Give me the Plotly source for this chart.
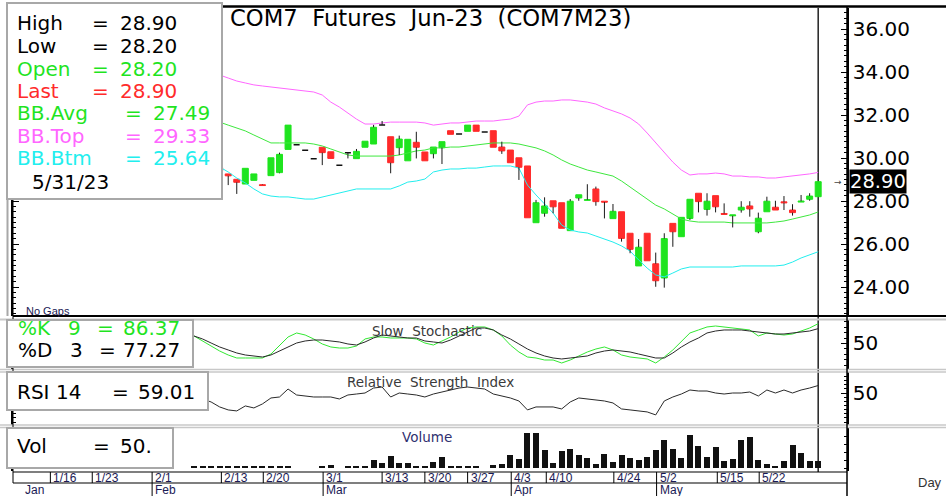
import plotly.graph_objects as go

W, H = 946, 496

# ---------------- data ----------------
opens = [29.60, 29.70, 29.80, 29.55,
         29.26, 29.01, 28.79, 28.96, 28.76, 29.18, 29.32, 30.40, 30.62, 30.36,
         29.97, 30.50, 30.29, 29.66, 30.25, 29.97, 30.50, 30.65, 31.54, 30.99,
         30.48, 29.87, 30.73, 30.28, 30.20, 30.48, 31.27, 31.12, 31.24, 31.53,
         31.21, 31.27, 30.51, 30.37, 30.01, 29.63, 26.99, 27.43, 28.01, 27.92,
         26.62, 28.14, 28.03, 28.56, 27.99, 27.18, 27.50, 26.50, 24.98, 26.50,
         25.08, 24.42, 26.96, 26.34, 27.19, 28.36, 27.61, 28.25, 27.42, 27.31,
         27.58, 27.77, 26.57, 27.50, 27.71, 27.96, 27.58, 27.95, 28.08, 28.20]
highs = [29.80, 29.90, 29.85, 29.60,
         29.26, 29.01, 29.52, 29.26, 28.78, 30.01, 30.25, 31.53, 30.62, 30.36,
         29.97, 30.50, 30.29, 29.66, 30.25, 30.42, 30.78, 31.54, 31.72, 30.99,
         31.04, 30.87, 31.22, 30.28, 30.51, 30.76, 31.27, 31.12, 31.53, 31.53,
         31.21, 31.27, 30.76, 30.37, 30.01, 29.63, 28.05, 28.17, 28.01, 27.92,
         28.09, 28.29, 28.78, 28.67, 27.99, 27.86, 27.50, 26.50, 26.23, 26.50,
         25.60, 26.50, 26.96, 27.24, 28.08, 28.36, 28.36, 28.25, 27.89, 27.35,
         27.99, 27.99, 27.46, 28.20, 28.01, 28.23, 27.85, 28.28, 28.36, 28.90]
lows = [29.50, 29.60, 29.50, 29.35,
        28.74, 28.33, 28.79, 28.96, 28.72, 29.18, 29.29, 30.40, 30.62, 30.36,
        29.97, 29.67, 29.98, 29.66, 29.98, 29.97, 30.50, 30.65, 31.54, 29.29,
        30.14, 29.87, 29.98, 29.87, 29.98, 29.72, 31.10, 31.12, 31.24, 31.24,
        31.21, 30.50, 30.19, 29.78, 28.98, 27.22, 26.99, 27.27, 27.43, 26.73,
        26.62, 28.01, 28.03, 27.78, 27.19, 27.18, 26.11, 25.57, 24.98, 25.22,
        24.01, 23.97, 25.87, 26.34, 27.12, 27.47, 27.32, 27.47, 27.38, 26.77,
        27.46, 27.27, 26.50, 27.50, 27.58, 27.58, 27.32, 27.95, 28.01, 28.20]
closes = [29.70, 29.80, 29.55, 29.40,
          29.17, 28.87, 29.52, 29.26, 28.72, 30.01, 30.17, 31.53, 30.62, 30.36,
          29.97, 30.25, 29.98, 29.66, 30.25, 30.31, 30.78, 31.43, 31.54, 29.78,
          30.88, 30.87, 30.50, 29.87, 30.51, 30.76, 31.10, 31.12, 31.53, 31.24,
          31.21, 30.50, 30.33, 29.78, 29.57, 27.22, 27.92, 27.77, 27.73, 26.73,
          27.99, 28.29, 28.06, 27.97, 27.95, 27.52, 26.26, 25.75, 25.85, 25.22,
          24.29, 26.25, 26.57, 27.24, 28.08, 27.97, 27.99, 27.73, 27.38, 27.35,
          27.71, 27.63, 27.20, 27.99, 27.58, 27.92, 27.46, 27.99, 28.23, 28.90]
volume = [10, 10, 10, 10,
          15, 15, 10, 10, 10, 10, 10, 10, 0, 0,
          0, 10, 22, 0, 12, 15, 15, 60, 38, 90,
          40, 40, 15, 15, 45, 82, 12, 12, 12, 18,
          0, 25, 32, 98, 65, 262, 262, 133, 40, 128,
          142, 98, 75, 32, 105, 43, 98, 75, 58, 82,
          133, 210, 140, 77, 245, 165, 82, 155, 52, 65,
          210, 232, 60, 32, 17, 52, 170, 115, 50, 50]
bb_top = [34.00, 33.95, 33.91, 33.86, 33.72, 33.58, 33.49, 33.40, 33.35, 33.30,
          33.26, 33.21, 33.16, 33.12, 33.07, 32.93, 32.60, 32.37, 32.09, 31.81,
          31.58, 31.58, 31.63, 31.67, 31.67, 31.67, 31.67, 31.63, 31.53, 31.58,
          31.63, 31.63, 31.67, 31.72, 31.72, 31.72, 31.77, 31.81, 31.95, 32.47,
          32.60, 32.65, 32.65, 32.70, 32.70, 32.65, 32.60, 32.51, 32.33, 32.19,
          32.05, 31.86, 31.58, 31.16, 30.70, 30.23, 29.81, 29.44, 29.21, 29.26,
          29.26, 29.30, 29.26, 29.16, 29.16, 29.12, 29.12, 29.07, 29.07, 29.12,
          29.16, 29.21, 29.26, 29.33]
bb_avg = [31.95, 31.86, 31.77, 31.67, 31.53, 31.40, 31.26, 31.07, 30.88, 30.70,
          30.70, 30.70, 30.70, 30.70, 30.65, 30.56, 30.42, 30.28, 30.14, 30.09,
          30.09, 30.09, 30.09, 30.09, 30.14, 30.23, 30.33, 30.37, 30.47, 30.47,
          30.51, 30.51, 30.56, 30.60, 30.65, 30.70, 30.70, 30.70, 30.65, 30.56,
          30.47, 30.33, 30.14, 29.91, 29.72, 29.58, 29.44, 29.35, 29.26, 29.16,
          28.93, 28.65, 28.33, 28.05, 27.81, 27.63, 27.40, 27.16, 27.07, 27.02,
          27.02, 27.02, 27.02, 26.98, 26.98, 26.98, 26.98, 26.98, 27.02, 27.07,
          27.16, 27.26, 27.35, 27.49]
bb_btm = [30.00, 29.86, 29.72, 29.58, 29.35, 29.07, 28.84, 28.56, 28.33, 28.23,
          28.19, 28.19, 28.14, 28.09, 28.09, 28.19, 28.28, 28.37, 28.47, 28.56,
          28.56, 28.56, 28.56, 28.56, 28.70, 28.88, 28.93, 29.02, 29.35, 29.44,
          29.49, 29.49, 29.53, 29.53, 29.58, 29.63, 29.63, 29.63, 29.53, 28.74,
          28.28, 27.86, 27.44, 26.88, 26.65, 26.56, 26.51, 26.37, 26.23, 26.09,
          25.91, 25.67, 25.26, 24.88, 24.56, 24.47, 24.65, 24.84, 24.93, 24.93,
          24.93, 24.93, 24.93, 24.93, 24.98, 24.98, 24.98, 24.98, 24.98, 25.02,
          25.16, 25.35, 25.49, 25.64]
stoch_k = [63.8, 54.6, 45.4, 36.2, 28.9, 23.4, 23.4, 23.4, 23.4, 30.7,
           47.2, 61.9, 69.3, 65.6, 58.3, 49.1, 43.6, 41.7, 41.7, 45.4,
           58.3, 61.9, 61.9, 60.1, 60.1, 60.1, 58.3, 50.9, 47.2, 54.6,
           61.9, 71.1, 78.4, 80.3, 80.3, 74.8, 63.8, 47.2, 34.4, 25.2,
           23.4, 19.7, 19.7, 14.2, 19.7, 27.1, 34.4, 39.9, 43.6, 38.1,
           28.9, 25.2, 23.4, 21.6, 14.2, 25.2, 38.1, 54.6, 69.3, 74.8,
           80.3, 82.1, 80.3, 78.4, 76.6, 74.8, 63.8, 69.3, 67.4, 65.6,
           67.4, 72.9, 78.4, 86.37]
stoch_d = [63.8, 58.3, 50.9, 43.6, 38.1, 32.6, 28.9, 27.1, 25.2, 28.9,
           36.2, 43.6, 50.9, 54.6, 56.4, 56.4, 54.6, 52.8, 49.1, 47.2,
           52.8, 60.1, 65.6, 63.8, 61.9, 60.1, 60.1, 54.6, 52.8, 50.9,
           56.4, 63.8, 71.1, 78.4, 78.4, 74.8, 65.6, 58.3, 49.1, 39.9,
           32.6, 27.1, 23.4, 21.6, 23.4, 25.2, 27.1, 32.6, 36.2, 38.1,
           36.2, 34.4, 30.7, 27.1, 23.4, 23.4, 32.6, 43.6, 52.8, 60.1,
           69.3, 72.9, 74.8, 74.8, 74.8, 72.9, 71.1, 69.3, 67.4, 67.4,
           69.3, 71.1, 72.9, 77.27]
rsi = [44.0, 42.8, 39.2, 33.2, 29.6, 28.4, 34.4, 32.0, 36.8, 44.0,
       45.2, 54.8, 47.6, 46.4, 45.2, 45.2, 45.2, 42.8, 47.6, 48.8,
       50.0, 56.0, 57.2, 45.2, 50.0, 48.8, 47.6, 45.2, 48.8, 51.2,
       53.6, 56.0, 57.2, 56.0, 54.8, 48.8, 46.4, 44.0, 40.4, 29.6,
       33.2, 33.2, 33.2, 30.8, 39.2, 44.0, 42.8, 41.6, 40.4, 38.0,
       30.8, 29.6, 28.4, 27.2, 23.6, 40.4, 45.2, 48.8, 53.6, 52.4,
       52.4, 50.0, 48.8, 50.0, 50.0, 51.2, 46.4, 53.6, 50.0, 53.6,
       50.0, 53.6, 56.0, 59.01]
date_tick_labels = ['1/16', '1/23', '2/1', '2/13', '2/20', '3/1', '3/13', '3/20',
                    '3/27', '4/3', '4/10', '4/24', '5/2', '5/15', '5/22']
date_tick_pos = [-16.8, -11.9, -4.9, 3.2, 8.1, 15.1, 22.0, 27.0,
                 32.0, 37.1, 41.2, 49.1, 54.1, 61.2, 66.1]
month_labels = ['Jan', 'Feb', 'Mar', 'Apr', 'May']
month_pos = [-20.1, -4.9, 15.1, 37.1, 54.1]
price_ticks = [24, 26, 28, 30, 32, 34, 36]
title_text = 'COM7  Futures  Jun-23  (COM7M23)'
last_date = '5/31/23'

# ---------------- styling ----------------
FONT = 'DejaVu Sans'
ARIAL = 'Arial'
GREEN = '#1fe41f'
RED = '#ff2b2b'
PINK = '#ff66ff'
CYAN = '#22eeee'
NAVY = '#1a1a55'

n = len(closes)
xs = list(range(n))

fig = go.Figure()

# Bollinger bands
for vals, col in [(bb_top, PINK), (bb_avg, '#3ee83e'), (bb_btm, CYAN)]:
    fig.add_trace(go.Scatter(x=xs, y=vals, mode='lines', line=dict(color=col, width=1),
                             hoverinfo='skip', xaxis='x', yaxis='y'))


def candle_subset(pred, color, lw):
    sel = [i for i in xs if pred(opens[i], closes[i])]
    return go.Candlestick(
        x=sel,
        open=[opens[i] for i in sel],
        high=[max(opens[i], closes[i]) for i in sel],
        low=[min(opens[i], closes[i]) for i in sel],
        close=[closes[i] for i in sel],
        increasing=dict(fillcolor=color, line=dict(color=color, width=lw)),
        decreasing=dict(fillcolor=color, line=dict(color=color, width=lw)),
        whiskerwidth=0, hoverinfo='skip', xaxis='x', yaxis='y')


fig.add_trace(candle_subset(lambda o, c: c > o, GREEN, 1))
fig.add_trace(candle_subset(lambda o, c: c < o, RED, 1))
fig.add_trace(candle_subset(lambda o, c: c == o, '#111111', 1.5))

# wicks (outside of the bodies)
wx, wy = [], []
for i in xs:
    top = max(opens[i], closes[i])
    bot = min(opens[i], closes[i])
    if highs[i] > top:
        wx += [i, i, None]
        wy += [top, highs[i], None]
    if lows[i] < bot:
        wx += [i, i, None]
        wy += [lows[i], bot, None]
fig.add_trace(go.Scatter(x=wx, y=wy, mode='lines', line=dict(color='#1a1a1a', width=1),
                         hoverinfo='skip', xaxis='x', yaxis='y'))

# Slow stochastic
fig.add_trace(go.Scatter(x=xs, y=stoch_k, mode='lines', line=dict(color='#33e833', width=1),
                         hoverinfo='skip', xaxis='x', yaxis='y2'))
fig.add_trace(go.Scatter(x=xs, y=stoch_d, mode='lines', line=dict(color='#2a2a2a', width=1),
                         hoverinfo='skip', xaxis='x', yaxis='y2'))
# RSI
fig.add_trace(go.Scatter(x=xs, y=rsi, mode='lines', line=dict(color='#2a2a2a', width=1),
                         hoverinfo='skip', xaxis='x', yaxis='y3'))
# Volume
fig.add_trace(go.Bar(x=xs, y=volume, width=0.7, marker=dict(color='#111111', line=dict(width=0)),
                     hoverinfo='skip', xaxis='x', yaxis='y4'))


def py(p):
    return 1 - p / H


def px(p):
    return p / W


def yax(dom, rng, **kw):
    d = dict(domain=[py(dom[1]), py(dom[0])], range=rng, anchor='x', side='right',
             showgrid=False, zeroline=False, showline=True, linecolor='black', linewidth=1.5,
             mirror='ticks', ticks='inside', tickcolor='black', ticklen=6,
             tickfont=dict(family=FONT, size=20, color='black'), fixedrange=True)
    d.update(kw)
    return d


fig.update_layout(
    width=W, height=H, margin=dict(l=0, r=0, t=0, b=0),
    paper_bgcolor='white', plot_bgcolor='rgba(0,0,0,0)',
    showlegend=False, boxgap=0.3, boxgroupgap=0, bargap=0,
    xaxis=dict(domain=[px(13), px(847)], range=[-21.17, 76.37], anchor='y4',
               showticklabels=False, ticks='', showgrid=False, zeroline=False,
               showline=False, rangeslider=dict(visible=False), fixedrange=True),
    yaxis=yax((8, 316), [22.651, 36.977], tickvals=price_ticks, tickformat='.2f',
              minor=dict(dtick=0.25, ticks='inside', ticklen=3, tickcolor='black')),
    yaxis2=yax((320, 369), [3.2, 93.1], tickvals=[50], ticktext=['50'],
               minor=dict(dtick=10, ticks='inside', ticklen=3, tickcolor='black')),
    yaxis3=yax((372, 425), [11.45, 75.3], tickvals=[50], ticktext=['50'],
               minor=dict(dtick=5, ticks='inside', ticklen=3, tickcolor='black')),
    yaxis4=yax((428, 471), [-22.5, 300], tickvals=[0, 60, 120, 180, 240], showticklabels=False,
               ticklen=3),
)

shapes = []


def hline(y, x0, x1, color, width):
    shapes.append(dict(type='line', xref='paper', yref='paper', x0=px(x0), x1=px(x1),
                       y0=py(y), y1=py(y), line=dict(color=color, width=width), layer='above'))


def vline(x, y0, y1, color, width):
    shapes.append(dict(type='line', xref='paper', yref='paper', x0=px(x), x1=px(x),
                       y0=py(y0), y1=py(y1), line=dict(color=color, width=width), layer='above'))


# current-date vertical line through all panels
shapes.append(dict(type='line', xref='x', yref='paper', x0=n - 1, x1=n - 1,
                   y0=py(472), y1=py(8), line=dict(color='#222222', width=1.5), layer='below'))

hline(6.5, 13, W, 'black', 2.5)
hline(316, 13, W, 'black', 2)
hline(319.5, 0, W, '#c8c8c8', 2)
hline(369.5, 0, W, '#c8c8c8', 1.5)
hline(372, 0, W, '#c8c8c8', 1.5)
hline(425, 0, W, '#c8c8c8', 1.5)
hline(427.5, 0, W, '#c8c8c8', 1.5)
hline(472, 13, 847, 'black', 1.2)
hline(483, 13, 847, 'black', 1.2)
vline(847, 6, H, 'black', 1.5)
vline(7.5, 3, 316, '#a8a8a8', 2)
vline(13, 6, 483, 'black', 1)

for pos in date_tick_pos:
    shapes.append(dict(type='line', xref='x', yref='paper', x0=pos, x1=pos, y0=py(483), y1=py(472),
                       line=dict(color='black', width=1), layer='above'))
for pos in month_pos[1:]:
    shapes.append(dict(type='line', xref='x', yref='paper', x0=pos, x1=pos, y0=py(H), y1=py(483),
                       line=dict(color='black', width=1), layer='above'))

# legend boxes
for (x0, y0, x1, y1) in [(7, 3, 222, 199), (7, 320, 193, 367), (7, 372, 208, 410), (7, 428, 173, 468)]:
    shapes.append(dict(type='rect', xref='paper', yref='paper', x0=px(x0), x1=px(x1),
                       y0=py(y1), y1=py(y0), fillcolor='white',
                       line=dict(color='#a8a8a8', width=2), layer='above'))
fig.update_layout(shapes=shapes)

ann = []


def txt(text, x, y, size=20, color='black', family=FONT, anchor='left'):
    ann.append(dict(text=text.replace(' ', '\u00a0'), x=px(x), y=py(y), xref='paper', yref='paper',
                    xanchor=anchor, yanchor='middle', showarrow=False,
                    font=dict(family=family, size=size, color=color)))


# main info box
rows = [('High', highs[-1], 'black', 23.3, 90, 118),
        ('Low', lows[-1], 'black', 46, 90, 118),
        ('Open', opens[-1], GREEN, 69, 90, 118),
        ('Last', closes[-1], RED, 91, 90, 118),
        ('BB.Avg', bb_avg[-1], GREEN, 113, 123, 151),
        ('BB.Top', bb_top[-1], PINK, 136, 123, 151),
        ('BB.Btm', bb_btm[-1], CYAN, 158, 123, 151)]
for label, val, col, yy, xe, xv in rows:
    txt(label, 15, yy, color=col)
    txt('=', xe, yy, color=col)
    txt(f'{val:.2f}', xv, yy, color=col)
txt(last_date, 30, 181.5)

# title
txt(title_text, 228, 18, size=22.7)

# stochastic box
txt('%K', 16, 328, color=GREEN)
txt('9', 66, 328, color=GREEN)
txt('=', 95, 328, color=GREEN)
txt(f'{stoch_k[-1]:.2f}', 121, 328, color=GREEN)
txt('%D', 16, 349.7)
txt('3', 68, 349.7)
txt('=', 97, 349.7)
txt(f'{stoch_d[-1]:.2f}', 121, 349.7)

# RSI box
txt('RSI', 15, 391.7)
txt('14', 54, 391.7)
txt('=', 110, 391.7)
txt(f'{rsi[-1]:.2f}', 136, 391.7)

# Volume box
txt('Vol', 15, 446)
txt('=', 91, 446)
txt(f'{volume[-1]}.', 118, 446)

# panel titles
txt('Slow  Stochastic', 370, 331, size=13.5, color='#3a3a3a')
txt('Relative  Strength  Index', 345, 382, size=13.5, color='#3a3a3a')
txt('Volume', 400, 437, size=13.5, color='#303070')
txt('No Gaps', 24, 311, size=11, color=NAVY, family=ARIAL)
txt('Day', 916, 482.5, size=13, color='#333333', family=ARIAL)

# arrow + last price tag
txt('\u2192', 838, 182, size=9, color='#444444', anchor='center')
ann.append(dict(text=f'{closes[-1]:.2f}', x=px(849), y=closes[-1], xref='paper', yref='y',
                xanchor='left', yanchor='middle', showarrow=False, bgcolor='black', borderpad=0,
                font=dict(family=FONT, size=19.5, color='white')))

# date axis labels
for lab, pos in zip(date_tick_labels, date_tick_pos):
    ann.append(dict(text=lab, x=pos, y=py(477.5), xref='x', yref='paper', xanchor='left',
                    yanchor='middle', xshift=1, showarrow=False,
                    font=dict(family=ARIAL, size=12, color=NAVY)))
for lab, pos in zip(month_labels, month_pos):
    ann.append(dict(text=lab, x=pos, y=py(489.5), xref='x', yref='paper', xanchor='left',
                    yanchor='middle', xshift=1, showarrow=False,
                    font=dict(family=ARIAL, size=12, color=NAVY)))

fig.update_layout(annotations=ann)

fig.write_html('out.html', config={'displayModeBar': False},
               post_script="document.body.style.margin='0';document.body.style.padding='0';"
                           "document.documentElement.style.overflow='hidden';")
